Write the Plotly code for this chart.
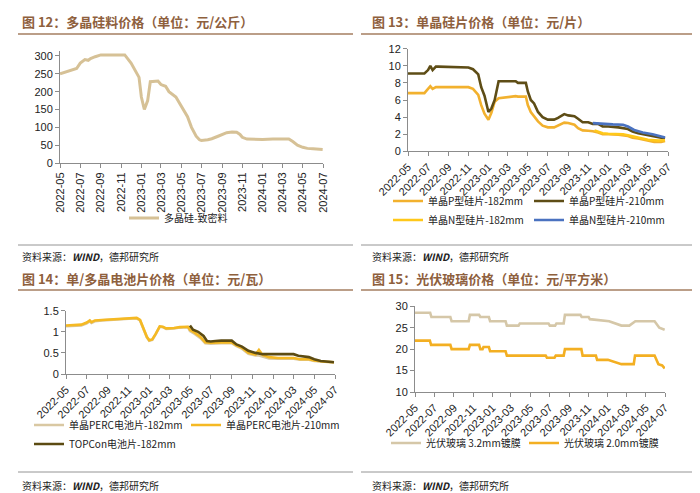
import plotly.graph_objects as go

# ---------------- data ----------------
poly_dates = ['2022-05-01','2022-06-01','2022-06-20','2022-07-01','2022-07-15','2022-07-25','2022-08-01','2022-08-15','2022-09-01',
              '2022-10-01','2022-11-12','2022-12-01','2022-12-15','2022-12-25','2023-01-01','2023-01-10','2023-01-20','2023-01-28',
              '2023-02-20','2023-03-01','2023-03-15','2023-03-25','2023-04-15','2023-05-01','2023-05-20','2023-06-01','2023-06-15',
              '2023-06-25','2023-07-01','2023-07-20','2023-08-01','2023-08-20','2023-09-01','2023-09-15','2023-10-01','2023-10-15',
              '2023-10-25','2023-11-01','2023-11-15','2023-12-01','2024-01-01','2024-02-01','2024-03-01','2024-03-20','2024-04-01',
              '2024-04-15','2024-05-01','2024-05-15','2024-06-01','2024-06-30']
poly_vals = [250,260,265,280,290,288,293,298,303,303,303,280,255,240,185,150,175,228,230,220,215,200,185,158,130,100,75,
             65,63,65,68,75,80,85,87,86,80,72,67,66,66,67,68,67,60,50,44,41,40,38]

wafer_dates = ['2022-05-01','2022-06-20','2022-07-01','2022-07-08','2022-07-15','2022-07-25','2022-08-01','2022-11-01','2022-11-15',
               '2022-12-01','2022-12-10','2022-12-20','2023-01-01','2023-01-10','2023-01-20','2023-02-01','2023-03-25','2023-04-01',
               '2023-04-25','2023-05-01','2023-05-10','2023-05-20','2023-06-01','2023-06-15','2023-07-01','2023-07-20','2023-08-01',
               '2023-08-20','2023-09-01','2023-09-20','2023-10-01','2023-10-15','2023-11-01','2023-11-15','2023-12-01','2023-12-15',
               '2024-01-01','2024-02-01','2024-03-01','2024-03-15','2024-04-01','2024-05-01','2024-05-20','2024-06-10','2024-06-22']
p210_vals = [9.1,9.1,9.5,10.0,9.5,9.9,9.9,9.8,9.6,9.0,7.5,6.5,4.6,5.0,6.0,8.2,8.2,8.0,8.0,7.0,6.0,5.6,4.6,4.0,3.7,3.7,3.9,
             4.35,4.2,4.1,3.8,3.4,3.4,3.2,3.2,2.9,2.9,2.8,2.6,2.3,2.1,1.9,1.8,1.6,1.5]
p182_vals = [6.8,6.8,7.3,7.6,7.3,7.5,7.5,7.5,7.3,6.6,5.4,4.4,3.7,4.5,5.8,6.2,6.45,6.4,6.4,5.4,4.6,4.1,3.5,3.0,2.8,2.8,3.0,
             3.35,3.3,3.1,2.7,2.45,2.4,2.35,2.2,2.0,2.0,1.95,1.8,1.6,1.5,1.25,1.1,1.1,1.2]
n182_dates = ['2023-11-20','2023-12-15','2024-01-01','2024-02-15','2024-03-15','2024-04-10','2024-05-01','2024-06-01','2024-06-22']
n182_vals = [2.45,2.1,2.05,2.0,1.75,1.5,1.35,1.25,1.3]
n210_dates = ['2023-11-15','2023-12-15','2024-01-15','2024-02-15','2024-03-01','2024-03-20','2024-04-15','2024-05-15','2024-06-22']
n210_vals = [3.3,3.2,3.15,3.1,2.9,2.5,2.2,2.0,1.6]

cell_dates = ['2022-05-01','2022-06-15','2022-07-01','2022-07-10','2022-07-15','2022-07-25','2022-08-15','2022-09-15','2022-10-15',
              '2022-11-01','2022-11-25','2022-12-05','2022-12-15','2022-12-25','2023-01-01','2023-01-10','2023-01-20','2023-02-01',
              '2023-02-10','2023-02-20','2023-03-15','2023-04-01','2023-04-25','2023-05-01','2023-05-15','2023-06-01','2023-06-15',
              '2023-07-01','2023-08-01','2023-09-01','2023-09-15','2023-10-01','2023-10-20','2023-11-10','2023-11-20','2023-12-01',
              '2023-12-20','2024-01-15','2024-03-01','2024-03-20','2024-04-15','2024-05-01','2024-06-01','2024-06-28']
perc210_vals = [1.15,1.17,1.22,1.27,1.23,1.27,1.28,1.30,1.32,1.33,1.33,1.28,1.10,0.88,0.80,0.82,0.95,1.13,1.12,1.08,1.09,1.11,
                1.12,1.05,0.98,0.88,0.75,0.74,0.75,0.75,0.68,0.62,0.50,0.46,0.57,0.45,0.40,0.38,0.38,0.35,0.35,0.32,0.29,0.28]
perc182_vals = [1.13,1.15,1.20,1.25,1.21,1.25,1.27,1.29,1.31,1.32,1.32,1.27,1.09,0.87,0.79,0.81,0.94,1.12,1.11,1.07,1.08,1.10,
                1.11,1.02,0.95,0.85,0.73,0.72,0.73,0.73,0.66,0.60,0.48,0.44,0.44,0.41,0.37,0.36,0.36,0.34,0.34,0.31,0.29,0.28]
topcon_dates = ['2023-05-01','2023-05-10','2023-05-25','2023-06-10','2023-06-20','2023-07-01','2023-07-15','2023-08-01','2023-09-01',
                '2023-09-15','2023-10-01','2023-10-20','2023-11-10','2023-12-01','2024-03-01','2024-03-15','2024-04-15','2024-05-01',
                '2024-05-20','2024-06-10','2024-06-28']
topcon_vals = [1.15,1.05,1.0,0.9,0.78,0.77,0.78,0.79,0.79,0.70,0.65,0.55,0.50,0.47,0.47,0.43,0.40,0.35,0.31,0.30,0.28]

g32_dates = ['2022-05-01','2022-06-18','2022-06-22','2022-08-21','2022-08-25','2022-10-18','2022-10-22','2022-11-20','2022-11-24',
             '2022-12-21','2022-12-25','2023-02-12','2023-02-16','2023-03-25','2023-03-29','2023-06-28','2023-07-02','2023-07-19',
             '2023-07-23','2023-08-15','2023-08-19','2023-10-07','2023-10-11','2023-11-02','2023-11-06','2024-01-06','2024-02-14',
             '2024-03-10','2024-03-29','2024-05-29','2024-06-13','2024-06-30']
g32_vals = [28.5,28.5,27.5,27.5,26.5,26.5,28.0,28.0,27.5,27.5,26.5,26.5,25.5,25.5,26.0,26.0,25.5,25.5,26.0,26.0,28.0,28.0,
            27.5,27.5,27.0,26.5,25.5,25.5,26.5,26.5,25.0,24.5]
g20_dates = ['2022-05-01','2022-06-17','2022-06-21','2022-08-21','2022-08-25','2022-10-18','2022-10-22','2022-11-20','2022-11-24',
             '2022-12-01','2022-12-04','2022-12-21','2022-12-25','2023-02-12','2023-02-16','2023-06-19','2023-06-23','2023-07-17',
             '2023-07-21','2023-08-15','2023-08-19','2023-10-10','2023-10-14','2023-11-25','2023-11-29','2024-01-02','2024-02-14',
             '2024-03-24','2024-03-28','2024-05-29','2024-06-10','2024-06-22','2024-06-30']
g20_vals = [22.0,22.0,21.0,21.0,20.0,20.0,21.0,21.0,20.0,20.0,20.5,20.5,19.5,19.5,18.5,18.5,18.0,18.0,18.5,18.5,20.0,20.0,
            18.5,18.5,17.5,17.5,16.5,16.5,18.5,18.5,16.5,16.2,15.5]

titles = ['图 12：多晶硅料价格（单位：元/公斤）', '图 13：单晶硅片价格（单位：元/片）',
          '图 14：单/多晶电池片价格（单位：元/瓦）', '图 15：光伏玻璃价格（单位：元/平方米）']
source_text = '资料来源：<b><i>WIND</i></b>，德邦研究所'

# ---------------- layout helpers ----------------
W, H = 700, 493
def px(x): return x / W
def py(y): return 1 - y / H

TICKFONT = dict(family='Arial, Liberation Sans, sans-serif', size=11, color='#222')
LEGFONT = dict(family='Noto Sans CJK SC, Arial, sans-serif', size=10, color='#222')

fig = go.Figure()
legend_specs = {}

def add(x, y, name, color, xa, ya, legend, lpos, width=2.6):
    fig.add_trace(go.Scatter(x=x, y=y, name=name, mode='lines', line=dict(color=color, width=width),
                             xaxis=xa, yaxis=ya, legend=legend, showlegend=True, hoverinfo='skip'))
    legend_specs[legend] = lpos

add(poly_dates, poly_vals, '多晶硅-致密料', '#D6C196', 'x', 'y', 'legend', (116, 210), 3)

add(wafer_dates, p182_vals, '单晶P型硅片-182mm', '#F2B12E', 'x2', 'y2', 'legend2', (380, 193))
add(wafer_dates, p210_vals, '单晶P型硅片-210mm', '#5E4D16', 'x2', 'y2', 'legend3', (521, 193))
add(n182_dates, n182_vals, '单晶N型硅片-182mm', '#FFC81A', 'x2', 'y2', 'legend4', (380, 212))
add(n210_dates, n210_vals, '单晶N型硅片-210mm', '#4A72C0', 'x2', 'y2', 'legend5', (521, 212))

add(cell_dates, perc182_vals, '单晶PERC电池片-182mm', '#D9C8A2', 'x3', 'y3', 'legend6', (21, 417))
add(cell_dates, perc210_vals, '单晶PERC电池片-210mm', '#F5B923', 'x3', 'y3', 'legend7', (178, 417))
add(topcon_dates, topcon_vals, 'TOPCon电池片-182mm', '#5C4B12', 'x3', 'y3', 'legend8', (21, 436))

add(g32_dates, g32_vals, '光伏玻璃 3.2mm镀膜', '#D5C7A8', 'x4', 'y4', 'legend9', (378, 435))
add(g20_dates, g20_vals, '光伏玻璃 2.0mm镀膜', '#F3AF22', 'x4', 'y4', 'legend10', (516, 435))

def xaxis(dom, anchor, angle):
    return dict(domain=[px(dom[0]), px(dom[1])], anchor=anchor, type='date',
                range=['2022-05-01', '2024-07-01'], tick0='2022-05-01', dtick='M2', tickformat='%Y-%m',
                tickangle=angle, showline=True, linecolor='#8c8c8c', linewidth=1, ticks='outside',
                ticklen=4, tickcolor='#8c8c8c', showgrid=False, zeroline=False, tickfont=TICKFONT,
                fixedrange=True, automargin=False)

def yaxis(top, bottom, anchor, rng, dtick):
    return dict(domain=[py(bottom), py(top)], anchor=anchor, range=rng, dtick=dtick,
                showline=True, linecolor='#8c8c8c', linewidth=1, ticks='outside', ticklen=4,
                tickcolor='#8c8c8c', showgrid=False, zeroline=False, tickfont=TICKFONT, fixedrange=True,
                automargin=False)

layout = dict(
    width=W, height=H, margin=dict(l=0, r=0, t=0, b=0, autoexpand=False), paper_bgcolor='white',
    plot_bgcolor='white', showlegend=True,
    xaxis=xaxis((52, 315), 'y', -90),
    yaxis=yaxis(43, 155, 'x', [0, 314], 50),
    xaxis2=xaxis((400, 660), 'y2', -45),
    yaxis2=yaxis(40.7, 143.3, 'x2', [0, 12], 2),
    xaxis3=xaxis((58, 327), 'y3', -45),
    yaxis3=yaxis(302.7, 366, 'x3', [0, 1.5], 0.5),
    xaxis4=xaxis((407, 657), 'y4', -45),
    yaxis4=yaxis(298.3, 384, 'x4', [10, 30], 5),
)

for lid, (lx, ly) in legend_specs.items():
    layout[lid] = dict(x=px(lx), y=py(ly), xanchor='left', yanchor='middle', orientation='h',
                       font=LEGFONT, bgcolor='rgba(0,0,0,0)', borderwidth=0,
                       itemclick=False, itemdoubleclick=False, visible=True)

fig.update_layout(**layout)

# titles, rules, sources
title_pos = [(12, 14), (362, 14), (12, 270), (362, 270)]
top_rules = [(10, 345, 26), (353, 685, 26), (10, 345, 282), (353, 685, 282)]
bot_rules = [(10, 345, 237), (353, 685, 237), (10, 345, 464), (353, 685, 464)]
src_pos = [(12, 248), (362, 248), (12, 477), (362, 477)]

for t, (tx, ty) in zip(titles, title_pos):
    fig.add_annotation(text='<b>' + t + '</b>', x=px(tx), y=py(ty), xref='paper', yref='paper',
                       xanchor='left', yanchor='middle', showarrow=False,
                       font=dict(family='Noto Sans CJK SC, sans-serif', size=13, color='#8E603D'))
for (x0, x1, y) in top_rules:
    fig.add_shape(type='line', x0=px(x0), x1=px(x1), y0=py(y), y1=py(y), xref='paper', yref='paper',
                  line=dict(color='#A57E60', width=1.3))
for (x0, x1, y) in bot_rules:
    fig.add_shape(type='line', x0=px(x0), x1=px(x1), y0=py(y), y1=py(y), xref='paper', yref='paper',
                  line=dict(color='#7a7a7a', width=0.8))
for (sx, sy) in src_pos:
    fig.add_annotation(text=source_text, x=px(sx), y=py(sy), xref='paper', yref='paper',
                       xanchor='left', yanchor='middle', showarrow=False,
                       font=dict(family='Noto Sans CJK SC, Arial, sans-serif', size=10, color='#222'))

fig.write_html('out.html')
